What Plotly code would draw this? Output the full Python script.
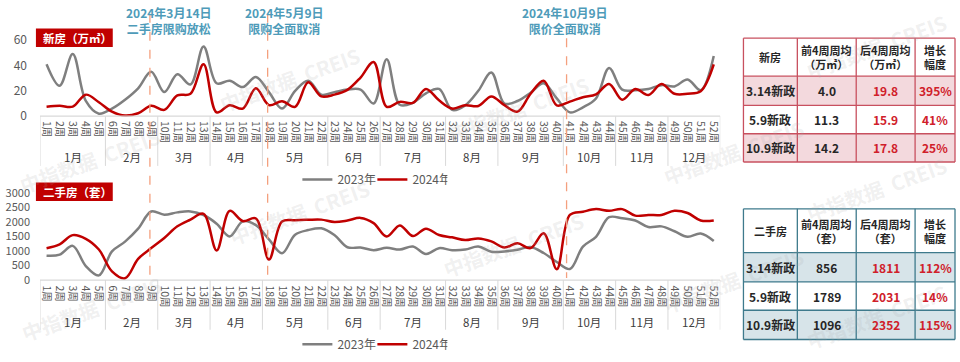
import plotly.graph_objects as go

W, H = 960, 362
FONT = "Noto Sans CJK SC"
RED = "#C00000"
GRAY = "#7F7F7F"
TEAL = "#4E9BB9"
DASH = "#F4A07E"
AXIS_C = "#D9D9D9"
TXT = "#595959"
VAL_RED = "#D0202A"

# ---------------- data ----------------
weeks = list(range(1, 53))
week_labels = [f"{w}周" for w in weeks]
months = ["1月", "2月", "3月", "4月", "5月", "6月", "7月", "8月", "9月", "10月", "11月", "12月"]
weeks_per_month = [5, 4, 4, 4, 5, 4, 5, 4, 5, 4, 4, 4]

new_2023 = [41, 24, 49, 12, 2, 6, 13, 22, 35, 19, 33, 25, 55, 26, 28, 23, 31, 19, 6, 20,
            28, 17, 19, 21, 21, 10, 45, 9, 10.5, 18, 21.5, 5, 8.5, 20, 34.5, 10, 12, 18.5, 26, 14,
            3, 7, 14, 38, 21, 20.5, 21.5, 24.5, 23.5, 29, 20.5, 47.5]
new_2024 = [7.4, 8.2, 7.5, 17, 11, 3.6, 0.5, 2.3, 8.2, 5, 16.4, 17.7, 41, 3, 8.7, 6, 22, 8.7, 11.8, 7.4,
            26.7, 15.6, 17, 20.8, 30.5, 42.8, 7.4, 11.3, 10.5, 21.5, 12.5, 6, 8.7, 8, 15.6, 8.7, 3.6, 17.7, 28, 8.5,
            11.5, 15, 17.3, 25.4, 13, 21.5, 16.7, 25.4, 17.7, 17.7, 19.6, 40.8]
sec_2023 = [840, 874, 1176, 482, 160, 986, 1322, 1770, 2360, 2251, 2330, 2363, 2240, 1940, 1500, 2020, 1890, 1400, 920, 1560,
            1720, 1780, 1550, 1130, 1120, 1030, 1110, 1050, 1153, 896, 1098, 1030, 1050, 1153, 975, 986, 1042, 1140, 930, 620,
            380, 1153, 1490, 2162, 2128, 2050, 1826, 1848, 1680, 1490, 1602, 1344]
sec_2024 = [1098, 1232, 1546, 1420, 1050, 300, 60, 730, 1100, 1450, 1850, 2080, 2280, 1020, 2380, 2030, 2120, 706, 2016, 2060,
            2075, 2080, 2000, 2050, 2140, 1960, 1500, 1882, 1515, 1770, 1550, 1470, 1378, 1434, 1330, 1120, 1266, 1098, 1610, 370,
            2240, 2352, 2442, 2386, 2442, 2218, 2240, 2240, 2386, 2308, 2050, 2050]

event_weeks = [8.9, 17.9, 40.75]
event_dates = ["2024年3月14日", "2024年5月9日", "2024年10月9日"]
event_texts = ["二手房限购放松", "限购全面取消", "限价全面取消"]

policy_rows = ["3.14新政", "5.9新政", "10.9新政"]
new_header = ["新房", "前4周周均<br>（万㎡）", "后4周周均<br>（万㎡）", "增长<br>幅度"]
new_before = ["4.0", "11.3", "14.2"]
new_after = ["19.8", "15.9", "17.8"]
new_growth = ["395%", "41%", "25%"]
sec_header = ["二手房", "前4周周均<br>（套）", "后4周周均<br>（套）", "增长<br>幅度"]
sec_before = ["856", "1789", "1096"]
sec_after = ["1811", "2031", "2352"]
sec_growth = ["112%", "14%", "115%"]


def py(p):
    return 1 - p / H


def pxx(p):
    return p / W


fig = go.Figure()

line_cfg = dict(shape="spline", smoothing=1.0, width=2.5)
fig.add_trace(go.Scatter(x=weeks, y=new_2023, name="2023年", mode="lines",
                         line=dict(color=GRAY, **line_cfg), xaxis="x", yaxis="y", legend="legend"))
fig.add_trace(go.Scatter(x=weeks, y=new_2024, name="2024年", mode="lines",
                         line=dict(color=RED, **line_cfg), xaxis="x", yaxis="y", legend="legend"))
fig.add_trace(go.Scatter(x=weeks, y=sec_2023, name="2023年", mode="lines",
                         line=dict(color=GRAY, **line_cfg), xaxis="x2", yaxis="y2", legend="legend2"))
fig.add_trace(go.Scatter(x=weeks, y=sec_2024, name="2024年", mode="lines",
                         line=dict(color=RED, **line_cfg), xaxis="x2", yaxis="y2", legend="legend2"))

# ---------------- axes ----------------
xdom = [pxx(40.1), pxx(721.8)]
common_x = dict(domain=xdom, range=[0.5, 52.5], tickmode="array", tickvals=weeks, ticktext=week_labels,
                tickangle=90, tickfont=dict(size=10.5, color=TXT, family=FONT), showgrid=False,
                showline=False, zeroline=False, ticks="", fixedrange=True)
leg_common = dict(orientation="h", xanchor="left", yanchor="middle", entrywidth=30, entrywidthmode="pixels",
                  font=dict(size=12, color=TXT, family=FONT), bgcolor="rgba(0,0,0,0)", itemwidth=30)
fig.update_layout(
    width=W, height=H, margin=dict(l=0, r=0, t=0, b=0),
    paper_bgcolor="white", plot_bgcolor="rgba(0,0,0,0)",
    font=dict(family=FONT, color=TXT),
    xaxis=dict(anchor="y", **common_x),
    yaxis=dict(domain=[py(116.9), py(27.2)], range=[-3, 66], tickvals=[0, 20, 40, 60],
               tickfont=dict(size=12, color=TXT), showgrid=False, zeroline=False, showline=False,
               ticks="", ticklabelstandoff=12, fixedrange=True),
    xaxis2=dict(anchor="y2", **common_x),
    yaxis2=dict(domain=[py(285.5), py(188.7)], range=[-150, 3100], tickvals=[0, 500, 1000, 1500, 2000, 2500, 3000],
                tickfont=dict(size=11, color=TXT), showgrid=False, zeroline=False, showline=False,
                ticks="", ticklabelstandoff=9, fixedrange=True),
    legend=dict(x=pxx(298), y=py(178), **leg_common),
    legend2=dict(x=pxx(298), y=py(347), **leg_common),
    showlegend=True,
)

shapes = []
annotations = []


def ptext(x, y, text, size, color, **kw):
    d = dict(x=pxx(x), y=py(y), xref="paper", yref="paper", text=text, showarrow=False,
             xanchor="center", yanchor="middle", font=dict(size=size, color=color, family=FONT))
    d.update(kw)
    annotations.append(d)


# watermarks (kept fully inside the canvas)
wm_centers = [(90, 158), (290, 75), (520, 105), (735, 150), (300, 212), (515, 245), (735, 282),
              (92, 310), (878, 42), (878, 188), (878, 318)]
for cx, cy in wm_centers:
    ptext(cx, cy, "<b>中指数据  CREIS</b>", 20, "rgba(170,170,170,0.18)", textangle=-20)

# category axis frames
bounds = [0.5]
for n in weeks_per_month:
    bounds.append(bounds[-1] + n)
for (xr, yr, base_px, bot_px, mon_px) in [("x", "y", 113, 164, 155), ("x2", "y2", 281, 332, 324)]:
    shapes.append(dict(type="line", xref=xr, yref=yr, x0=0.5, x1=52.5, y0=0, y1=0,
                       line=dict(color=AXIS_C, width=1.2)))
    for b in bounds:
        shapes.append(dict(type="line", xref=xr, yref="paper", x0=b, x1=b, y0=py(base_px), y1=py(bot_px),
                           line=dict(color=AXIS_C, width=1)))
    for i, m in enumerate(months):
        c = (bounds[i] + bounds[i + 1]) / 2
        annotations.append(dict(x=c, y=py(mon_px), xref=xr, yref="paper", text=m, showarrow=False,
                                xanchor="center", yanchor="middle",
                                font=dict(size=11.5, color="#404040", family=FONT)))

# event dashed lines + labels
starts = [8, 8, 33]
label_px = [169, 285, 566]
for ew, st, lx, d, t in zip(event_weeks, starts, label_px, event_dates, event_texts):
    shapes.append(dict(type="line", xref="x", yref="paper", x0=ew, x1=ew, y0=py(st), y1=py(279),
                       line=dict(color=DASH, width=1.3, dash="dash")))
    ptext(lx, 15, f"<b>{d}<br>{t}</b>", 12, TEAL, align="center")

# title boxes
for (y0, y1, txt) in [(23, 42, "新房（万㎡）"), (181, 200, "二手房（套）")]:
    shapes.append(dict(type="rect", xref="paper", yref="paper", x0=pxx(36), x1=pxx(113), y0=py(y1), y1=py(y0),
                       fillcolor=RED, line=dict(width=0)))
    ptext(41, (y0 + y1) / 2, f"<b>{txt}</b>", 11.5, "white", xanchor="left")

# ---------------- tables (drawn with shapes + text) ----------------
col_edges = [745, 799, 858, 917, 957]


def draw_table(header, before, after, growth, border, fill, row_edges):
    cols = [policy_rows, before, after, growth]
    colors = ["#262626", "#262626", VAL_RED, VAL_RED]
    for r in (0, 2):
        shapes.append(dict(type="rect", xref="paper", yref="paper", x0=pxx(col_edges[0]), x1=pxx(col_edges[-1]),
                           y0=py(row_edges[r + 2]), y1=py(row_edges[r + 1]), fillcolor=fill, line=dict(width=0),
                           layer="below"))
    for yy in row_edges:
        shapes.append(dict(type="line", xref="paper", yref="paper", x0=pxx(col_edges[0]), x1=pxx(col_edges[-1]),
                           y0=py(yy), y1=py(yy), line=dict(color=border, width=1.3)))
    for xx in col_edges:
        shapes.append(dict(type="line", xref="paper", yref="paper", x0=pxx(xx), x1=pxx(xx),
                           y0=py(row_edges[0]), y1=py(row_edges[-1]), line=dict(color=border, width=1.3)))
    for c in range(4):
        cx = (col_edges[c] + col_edges[c + 1]) / 2
        hy = (row_edges[0] + row_edges[1]) / 2
        ptext(cx, hy, f"<b>{header[c]}</b>", 11, "#262626", align="center")
        for r in range(3):
            ry = (row_edges[r + 1] + row_edges[r + 2]) / 2
            ptext(cx, ry, f"<b>{cols[c][r]}</b>", 12, colors[c])


draw_table(new_header, new_before, new_after, new_growth, "#C8505F", "#F3D9DD", [33, 72, 102, 131, 160])
draw_table(sec_header, sec_before, sec_after, sec_growth, "#3E7A8C", "#D7E4E9", [208, 253, 283, 312, 342])

fig.update_layout(shapes=shapes, annotations=annotations)
fig.write_html("out.html", config={"displayModeBar": False, "staticPlot": True},
               post_script="document.body.style.margin='0';document.body.style.overflow='hidden';")
